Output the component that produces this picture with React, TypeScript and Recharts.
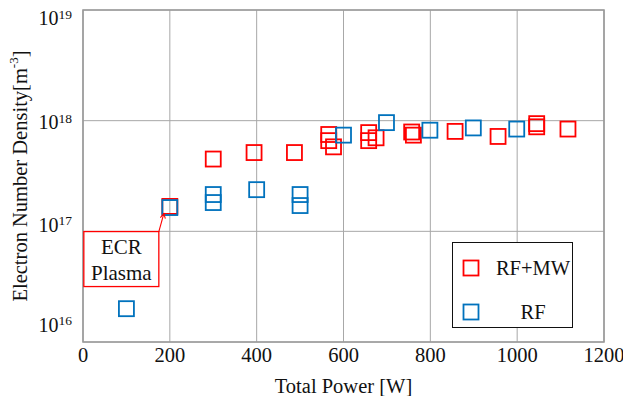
import {
  ScatterChart, Scatter, XAxis, YAxis, CartesianGrid,
  ReferenceArea, ReferenceDot,
} from "recharts";

// Total power [W] vs electron number density [m^-3].
const rfmwPower = [200, 300, 394, 487, 566, 566, 577, 658, 658, 675, 757, 761, 857, 956, 1045, 1045, 1117];
const rfmwDensity = [1.68e17, 4.5e17, 5.15e17, 5.15e17, 7.5e17, 6.6e17, 5.8e17, 7.8e17, 6.6e17, 7.0e17, 7.9e17, 7.4e17, 8.0e17, 7.2e17, 9.4e17, 8.8e17, 8.4e17];
const rfPower = [100, 200, 300, 300, 400, 500, 500, 600, 699, 799, 899, 999];
const rfDensity = [2.0e16, 1.64e17, 2.15e17, 1.82e17, 2.38e17, 2.15e17, 1.71e17, 7.4e17, 9.6e17, 8.2e17, 8.6e17, 8.4e17];

const xTicks = [0, 200, 400, 600, 800, 1000, 1200];
const yTicks = [1e16, 1e17, 1e18, 1e19];

const RED = "#ff0000";
const BLUE = "#0072bd";
const GRID = "#a8a8a8";
const FONT = "'Liberation Serif', 'Times New Roman', serif";

const rfmw = rfmwPower.map((x, i) => ({ x, y: rfmwDensity[i] }));
const rf = rfPower.map((x, i) => ({ x, y: rfDensity[i] }));

// hollow square marker, same look as the legend glyphs
const square = (color: string) => (p: any) => (
  <rect x={p.cx - 7.5} y={p.cy - 7.5} width={15} height={15} fill="none" stroke={color} strokeWidth={1.8} />
);

// the original export places the decade labels a little off their grid lines
const yLabelShift: Record<number, number> = { 19: 8.5, 18: 2, 17: -6, 16: -17 };

function YTick({ x, y, payload }: any) {
  const exp = Math.round(Math.log10(payload.value));
  return (
    <text x={x - 11} y={y + (yLabelShift[exp] ?? 0) + 6.5} textAnchor="end" fontFamily={FONT} fill="#111">
      <tspan fontSize={20}>10</tspan>
      <tspan fontSize={13.5} dy={-6.5}>{exp}</tspan>
    </text>
  );
}

function XTick({ x, y, payload }: any) {
  return (
    <text x={x} y={y + 20} textAnchor="middle" fontFamily={FONT} fontSize={20.5} fill="#111">
      {payload.value}
    </text>
  );
}

function XTitle({ viewBox }: any) {
  return (
    <text x={viewBox.x + viewBox.width / 2} y={viewBox.y + 51} textAnchor="middle" fontFamily={FONT} fontSize={20.5} fill="#111">
      Total Power [W]
    </text>
  );
}

function YTitle({ viewBox }: any) {
  const cx = viewBox.x + 20;
  const cy = viewBox.y + viewBox.height / 2;
  return (
    <text x={cx} y={cy} transform={`rotate(-90 ${cx} ${cy})`} textAnchor="middle" dominantBaseline="central"
      fontFamily={FONT} fontSize={20.5} fill="#111">
      Electron Number Density[m<tspan fontSize={13} dy={-7}>-3</tspan><tspan dy={7}>]</tspan>
    </text>
  );
}

// "ECR Plasma" callout pointing at the 200 W point
function EcrCallout({ cx, cy }: any) {
  const bx = cx - 86, by = cy + 24, bw = 75, bh = 55;
  const tipX = cx - 6, tipY = cy + 6;
  return (
    <g>
      <rect x={bx} y={by} width={bw} height={bh} fill="#fff" stroke={RED} strokeWidth={1.3} />
      <line x1={bx + bw} y1={by} x2={tipX} y2={tipY} stroke={RED} strokeWidth={1.1} />
      <path d={`M${tipX - 3.5} ${tipY + 4} L${tipX} ${tipY} L${tipX + 1.5} ${tipY + 5}`} fill="none" stroke={RED} strokeWidth={1.1} />
      <text x={bx + bw / 2} y={by + 22} textAnchor="middle" fontFamily={FONT} fontSize={21} fill="#111">ECR</text>
      <text x={bx + bw / 2} y={by + 48} textAnchor="middle" fontFamily={FONT} fontSize={21} fill="#111">Plasma</text>
    </g>
  );
}

const legendRows = [
  { name: "RF+MW", color: RED },
  { name: "RF", color: BLUE },
];

function LegendBox() {
  return (
    <div style={{
      position: "absolute", left: 452, top: 242, width: 119, height: 84, border: "1.5px solid #111",
      background: "#fff", fontFamily: FONT, fontSize: 20.5, color: "#111",
    }}>
      {legendRows.map((r, i) => (
        <div key={r.name} style={{ position: "absolute", left: 0, top: 14 + i * 44, width: 119, height: 22 }}>
          <svg width={20} height={20} style={{ position: "absolute", left: 8, top: 1 }}>
            <rect x={2.5} y={2.5} width={15} height={15} fill="none" stroke={r.color} strokeWidth={1.8} />
          </svg>
          <div style={{ position: "absolute", left: 40, width: 80, textAlign: "center", lineHeight: "22px" }}>{r.name}</div>
        </div>
      ))}
    </div>
  );
}

export default function App() {
  return (
    <div style={{ position: "absolute", left: 0, top: 0, width: 623, height: 396, background: "#fff" }}>
      <ScatterChart width={623} height={396} margin={{ top: 10, right: 19, bottom: 0, left: 0 }}>
        <CartesianGrid stroke={GRID} strokeWidth={1} />
        <XAxis
          type="number" dataKey="x" domain={[0, 1200]} ticks={xTicks} height={54}
          tickSize={0} tickMargin={0} axisLine={false} tick={<XTick />} label={<XTitle />}
          allowDataOverflow
        />
        <YAxis
          type="number" dataKey="y" scale="log" domain={[1e16, 1e19]} ticks={yTicks} width={83}
          tickSize={0} tickMargin={0} axisLine={false} tick={<YTick />} label={<YTitle />}
          allowDataOverflow
        />
        <ReferenceArea x1={0} x2={1200} y1={1e16} y2={1e19} fill="none" stroke="#9a9a9a" strokeWidth={1.6} />
        <Scatter name="RF+MW" data={rfmw} shape={square(RED)} isAnimationActive={false} />
        <Scatter name="RF" data={rf} shape={square(BLUE)} isAnimationActive={false} />
        <ReferenceDot x={200} y={1.64e17} shape={<EcrCallout />} />
      </ScatterChart>
      <LegendBox />
    </div>
  );
}
